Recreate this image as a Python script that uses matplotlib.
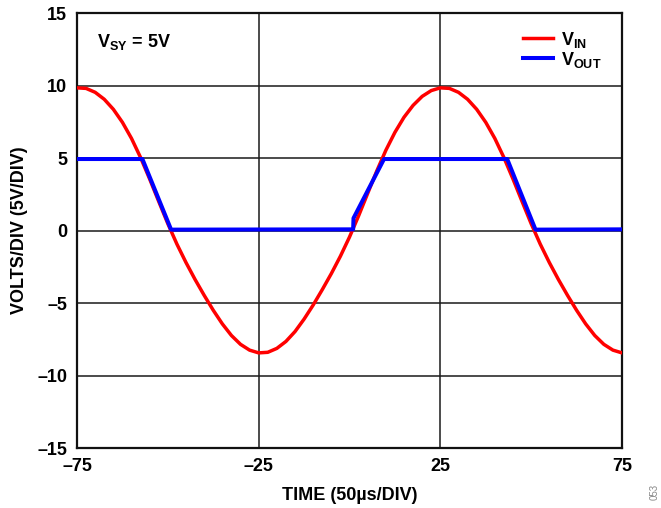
import matplotlib
matplotlib.use("Agg")
import matplotlib.pyplot as plt

plt.rcParams["font.family"] = ["Liberation Sans", "DejaVu Sans"]
plt.rcParams["font.weight"] = "bold"
plt.rcParams["mathtext.fontset"] = "custom"
plt.rcParams["mathtext.rm"] = "Liberation Sans:bold"
plt.rcParams["mathtext.bf"] = "Liberation Sans:bold"
plt.rcParams["mathtext.it"] = "Liberation Sans:bold"

# input sine, sampled every 2.5 time units from -75 to 75
time_in = [-75 + 2.5 * i for i in range(61)]
v_in = [
    9.84, 9.80, 9.53, 9.05, 8.36, 7.46, 6.35, 5.03, 3.55, 2.00,
    0.47, -0.94, -2.21, -3.38, -4.47, -5.50, -6.44, -7.24, -7.85, -8.25,
    -8.44, -8.40, -8.13, -7.65, -6.97, -6.11, -5.14, -4.08, -2.97, -1.77,
    -0.45, 1.01, 2.56, 4.10, 5.53, 6.77, 7.81, 8.63, 9.25, 9.65,
    9.84, 9.80, 9.53, 9.05, 8.36, 7.46, 6.35, 5.03, 3.55, 2.00,
    0.47, -0.94, -2.21, -3.38, -4.47, -5.50, -6.44, -7.24, -7.85, -8.25,
    -8.44,
]

# clipped output, breakpoints
time_out = [-75, -57.0, -49.1, 1.0, 1.1, 9.5, 43.4, 51.2, 75]
v_out = [4.93, 4.93, 0.06, 0.08, 0.85, 4.93, 4.93, 0.06, 0.08]

x_ticks = [-75, -25, 25, 75]
y_ticks = [-15, -10, -5, 0, 5, 10, 15]

FS = 13


def dash(v):
    return f"\u2013{abs(v)}" if v < 0 else str(v)


fig = plt.figure(figsize=(6.61, 5.08), dpi=100)
ax = fig.add_axes([0.1165, 0.1181, 0.8245, 0.8563])

for y in y_ticks[1:-1]:
    ax.axhline(y, color="#1a1a1a", lw=1.1, zorder=1)
for x in x_ticks[1:-1]:
    ax.axvline(x, color="#1a1a1a", lw=1.1, zorder=1)

ax.plot(time_in, v_in, color="#ff0000", lw=2.5, label=r"$\mathbf{V_{IN}}$", zorder=3)
ax.plot(time_out, v_out, color="#0000ff", lw=2.9, label=r"$\mathbf{V_{OUT}}$", zorder=4)

ax.set_xlim(-75, 75)
ax.set_ylim(-15, 15)
ax.set_xticks(x_ticks)
ax.set_yticks(y_ticks)
ax.set_xticklabels([dash(v) for v in x_ticks], fontsize=FS, fontweight="bold")
ax.set_yticklabels([dash(v) for v in y_ticks], fontsize=FS, fontweight="bold")
ax.tick_params(length=0, pad=7)
for spine in ax.spines.values():
    spine.set_linewidth(1.6)
    spine.set_color("#111111")

ax.set_xlabel("TIME (50\u00b5s/DIV)", fontsize=FS, fontweight="bold", labelpad=9)
ax.set_ylabel("VOLTS/DIV (5V/DIV)", fontsize=FS, fontweight="bold", labelpad=7)

ax.text(0.037, 0.922, r"$\mathbf{V_{SY}}$ = 5V", transform=ax.transAxes,
        fontsize=FS, fontweight="bold", va="baseline")

leg = ax.legend(loc="upper left", bbox_to_anchor=(0.805, 0.978), frameon=False,
                fontsize=FS, handlelength=1.66, handletextpad=0.44,
                labelspacing=0.0, borderaxespad=0.0)

fig.text(0.991, 0.015, "053", rotation=90, fontsize=7, color="#888888",
         fontweight="normal", ha="center", va="bottom")

fig.savefig("out.png", dpi=100)
